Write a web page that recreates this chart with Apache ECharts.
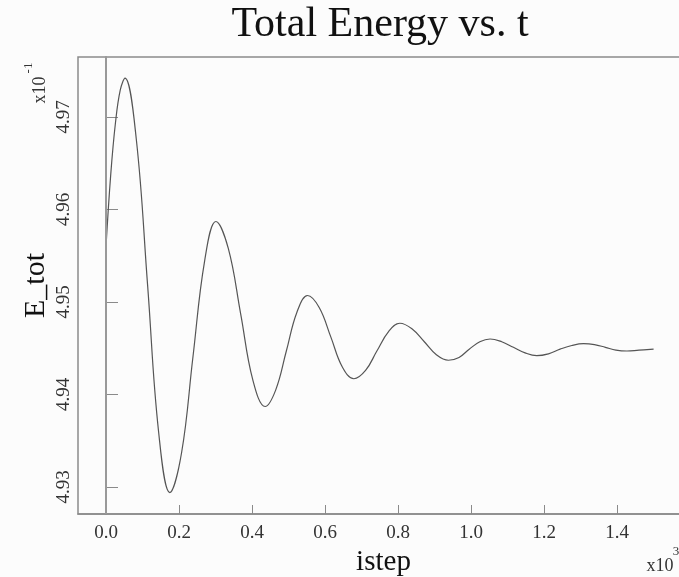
<!DOCTYPE html>
<html>
<head>
<meta charset="utf-8">
<title>Total Energy vs. t</title>
<script src="https://cdn.jsdelivr.net/npm/echarts@6/dist/echarts.min.js"></script>
<style>
  html, body { margin: 0; padding: 0; background: #fcfcfc; }
  #chart { width: 679px; height: 577px; }
</style>
</head>
<body>
<div id="chart"></div>
<script>
// istep in units of 10^3, E_tot in units of 10^-1
const istep = [
  0.000, 0.013, 0.026, 0.039, 0.052,
  0.083, 0.114, 0.144, 0.175,
  0.207, 0.238, 0.270, 0.301,
  0.335, 0.369, 0.402, 0.436,
  0.465, 0.494, 0.523, 0.552,
  0.584, 0.616, 0.647, 0.679,
  0.711, 0.742, 0.774, 0.805,
  0.838, 0.872, 0.905, 0.938,
  0.967, 0.995, 1.024, 1.052,
  1.084, 1.116, 1.148, 1.180,
  1.212, 1.244, 1.276, 1.308,
  1.338, 1.368, 1.397, 1.427,
  1.460, 1.500
];
const eTot = [
  4.9560, 4.9638, 4.9694, 4.9729, 4.9742,
  4.9676, 4.9518, 4.9360, 4.9294,
  4.9337, 4.9440, 4.9544, 4.9587,
  4.9558, 4.9487, 4.9416, 4.9387,
  4.9405, 4.9447, 4.9489, 4.9507,
  4.9494, 4.9462, 4.9430, 4.9417,
  4.9426, 4.9447, 4.9468, 4.9477,
  4.9471, 4.9457, 4.9443, 4.9437,
  4.9440, 4.9449, 4.9457, 4.9460,
  4.9457, 4.9451, 4.9445, 4.9442,
  4.9444, 4.9449, 4.9453, 4.9455,
  4.9454, 4.9451, 4.9448, 4.9447,
  4.9448, 4.9449
];
const xTicks = [0, 0.2, 0.4, 0.6, 0.8, 1.0, 1.2, 1.4];
const yTicks = [4.93, 4.94, 4.95, 4.96, 4.97];

const serif = 'Liberation Serif';
const frameColor = '#8a8a8a';

const chart = echarts.init(document.getElementById('chart'));

const option = {
  backgroundColor: '#fcfcfc',
  animation: false,
  title: {
    text: 'Total Energy vs. t',
    left: 375,
    top: -1,
    textAlign: 'center',
    textStyle: { fontFamily: serif, fontSize: 42, fontWeight: 'normal', color: '#111' }
  },
  grid: {
    left: 78, right: -10, top: 57, bottom: 63,
    outerBoundsMode: 'none',
    show: true, borderColor: frameColor, borderWidth: 1.5, backgroundColor: 'transparent'
  },
  xAxis: {
    type: 'value',
    min: -0.0767,
    max: 1.597,
    name: 'istep',
    nameLocation: 'middle',
    nameGap: 32,
    nameTextStyle: { fontFamily: serif, fontSize: 29, color: '#111' },
    axisLine: { lineStyle: { color: frameColor, width: 1.5 } },
    axisTick: { inside: true, length: 9, customValues: xTicks, lineStyle: { color: frameColor } },
    axisLabel: {
      customValues: xTicks,
      margin: 10,
      fontFamily: serif, fontSize: 19, color: '#333',
      formatter: v => v.toFixed(1)
    },
    splitLine: { show: false }
  },
  yAxis: {
    type: 'value',
    min: 4.927081,
    max: 4.976486,
    name: 'E_tot',
    nameLocation: 'middle',
    nameRotate: 90,
    nameGap: 27,
    nameMoveOverlap: false,
    nameTextStyle: { fontFamily: serif, fontSize: 30, color: '#111' },
    axisLine: { show: true, lineStyle: { color: frameColor, width: 1.5 } },
    axisTick: { show: true, inside: true, length: 12, customValues: yTicks, lineStyle: { color: frameColor } },
    axisLabel: {
      customValues: yTicks,
      rotate: 90,
      margin: 4,
      fontFamily: serif, fontSize: 19, color: '#333',
      formatter: v => v.toFixed(2)
    },
    splitLine: { show: false }
  },
  graphic: [
    {
      type: 'text', x: 40, y: 90, rotation: Math.PI / 2,
      style: { text: 'x10', fontFamily: serif, fontSize: 18, fill: '#333', align: 'center', verticalAlign: 'middle' }
    },
    {
      type: 'text', x: 29, y: 68, rotation: Math.PI / 2,
      style: { text: '-1', fontFamily: serif, fontSize: 13, fill: '#333', align: 'center', verticalAlign: 'middle' }
    },
    {
      type: 'text', x: 660, y: 566,
      style: { text: 'x10', fontFamily: serif, fontSize: 18, fill: '#333', align: 'center', verticalAlign: 'middle' }
    },
    {
      type: 'text', x: 676, y: 552,
      style: { text: '3', fontFamily: serif, fontSize: 13, fill: '#333', align: 'center', verticalAlign: 'middle' }
    }
  ],
  series: [
    {
      type: 'line',
      data: istep.map((t, i) => [t, eTot[i]]),
      showSymbol: false,
      smooth: 0.4,
      lineStyle: { color: '#555', width: 1.2 },
      markLine: {
        silent: true,
        symbol: 'none',
        label: { show: false },
        lineStyle: { color: '#999', width: 2, type: 'solid' },
        data: [{ xAxis: 0 }]
      }
    }
  ]
};

chart.setOption(option);
</script>
</body>
</html>
